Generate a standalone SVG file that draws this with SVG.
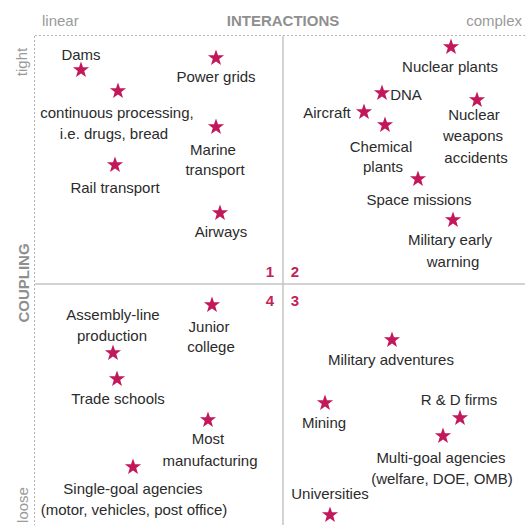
<svg xmlns="http://www.w3.org/2000/svg" width="525" height="525" viewBox="0 0 525 525">
  <style>
    .lbl { font-family: "Liberation Sans", Arial, sans-serif; font-size: 15px; fill: #2b2b2b; text-anchor: middle; }
    .axis { font-family: "Liberation Sans", Arial, sans-serif; font-size: 15px; fill: #9a9a9a; }
    .axisb { font-family: "Liberation Sans", Arial, sans-serif; font-size: 15px; font-weight: bold; fill: #8f8f8f; }
    .num { font-family: "Liberation Sans", Arial, sans-serif; font-size: 15px; font-weight: bold; fill: #c2245a; text-anchor: middle; }
    .dot { stroke: #b5b5b5; stroke-width: 1; stroke-dasharray: 2 2; fill: none; }
    .div { stroke: #c4c4c4; stroke-width: 1.5; fill: none; }
    .star { fill: #c2185b; }
  </style>
  <defs>
    <path id="star" d="M0,-8.5 L1.99,-2.75 L8.08,-2.63 L3.23,1.05 L5,6.88 L0,3.4 L-5,6.88 L-3.23,1.05 L-8.08,-2.63 L-1.99,-2.75 Z"/>
  </defs>
  <rect width="525" height="525" fill="#ffffff"/>

  <!-- frame and quadrant dividers -->
  <g id="grid">
    <line class="dot" x1="35" y1="35.5" x2="525" y2="35.5"/>
    <line class="dot" x1="34.5" y1="36" x2="34.5" y2="525"/>
    <line class="div" x1="283" y1="36" x2="283" y2="525"/>
    <line class="div" x1="35" y1="284" x2="525" y2="284"/>
  </g>

  <!-- axis titles -->
  <g id="axes">
    <text class="axis" x="42" y="26">linear</text>
    <text class="axisb" x="283" y="26" text-anchor="middle">INTERACTIONS</text>
    <text class="axis" x="522" y="26" text-anchor="end">complex</text>
    <text class="axis" transform="translate(27,62) rotate(-90)" text-anchor="middle">tight</text>
    <text class="axisb" transform="translate(29,283) rotate(-90)" text-anchor="middle">COUPLING</text>
    <text class="axis" transform="translate(28,505) rotate(-90)" text-anchor="middle">loose</text>
  </g>

  <!-- quadrant numbers -->
  <g id="quadrants">
    <text class="num" x="270" y="277">1</text>
    <text class="num" x="295" y="277">2</text>
    <text class="num" x="295" y="306">3</text>
    <text class="num" x="270" y="306">4</text>
  </g>

  <!-- quadrant 1: linear / tight -->
  <g id="dams"><use href="#star" class="star" x="81" y="70"/><text class="lbl" x="81" y="60">Dams</text></g>
  <g id="power-grids"><use href="#star" class="star" x="216" y="58"/><text class="lbl" x="216" y="82">Power grids</text></g>
  <g id="continuous-processing"><use href="#star" class="star" x="118" y="91"/><text class="lbl" x="117" y="118">continuous processing,</text><text class="lbl" x="114" y="139">i.e. drugs, bread</text></g>
  <g id="marine-transport"><use href="#star" class="star" x="216" y="127"/><text class="lbl" x="213" y="155">Marine</text><text class="lbl" x="215" y="175">transport</text></g>
  <g id="rail-transport"><use href="#star" class="star" x="115" y="165"/><text class="lbl" x="115" y="193">Rail transport</text></g>
  <g id="airways"><use href="#star" class="star" x="220" y="213"/><text class="lbl" x="221" y="237">Airways</text></g>

  <!-- quadrant 2: complex / tight -->
  <g id="nuclear-plants"><use href="#star" class="star" x="451" y="47"/><text class="lbl" x="450" y="72">Nuclear plants</text></g>
  <g id="dna"><use href="#star" class="star" x="382" y="93"/><text class="lbl" x="406" y="100">DNA</text></g>
  <g id="nuclear-weapons"><use href="#star" class="star" x="477" y="100"/><text class="lbl" x="474" y="120">Nuclear</text><text class="lbl" x="473" y="141">weapons</text><text class="lbl" x="476" y="163">accidents</text></g>
  <g id="aircraft"><use href="#star" class="star" x="364" y="112"/><text class="lbl" x="327" y="118">Aircraft</text></g>
  <g id="chemical-plants"><use href="#star" class="star" x="385" y="125"/><text class="lbl" x="381" y="152">Chemical</text><text class="lbl" x="383" y="172">plants</text></g>
  <g id="space-missions"><use href="#star" class="star" x="418" y="179"/><text class="lbl" x="419" y="205">Space missions</text></g>
  <g id="military-early-warning"><use href="#star" class="star" x="453" y="220"/><text class="lbl" x="450" y="245">Military early</text><text class="lbl" x="453" y="267">warning</text></g>

  <!-- quadrant 4: linear / loose -->
  <g id="junior-college"><use href="#star" class="star" x="212" y="305"/><text class="lbl" x="209" y="332">Junior</text><text class="lbl" x="211" y="352">college</text></g>
  <g id="assembly-line"><use href="#star" class="star" x="113" y="353"/><text class="lbl" x="113" y="320">Assembly-line</text><text class="lbl" x="112" y="341">production</text></g>
  <g id="trade-schools"><use href="#star" class="star" x="117" y="379"/><text class="lbl" x="118" y="404">Trade schools</text></g>
  <g id="most-manufacturing"><use href="#star" class="star" x="208" y="420"/><text class="lbl" x="208" y="444">Most</text><text class="lbl" x="210" y="466">manufacturing</text></g>
  <g id="single-goal-agencies"><use href="#star" class="star" x="133" y="467"/><text class="lbl" x="133" y="494">Single-goal agencies</text><text class="lbl" x="134" y="515">(motor, vehicles, post office)</text></g>

  <!-- quadrant 3: complex / loose -->
  <g id="military-adventures"><use href="#star" class="star" x="392" y="340"/><text class="lbl" x="391" y="365">Military adventures</text></g>
  <g id="mining"><use href="#star" class="star" x="325" y="403"/><text class="lbl" x="324" y="428">Mining</text></g>
  <g id="rd-firms"><use href="#star" class="star" x="460" y="418"/><text class="lbl" x="459" y="405">R &amp; D firms</text></g>
  <g id="multi-goal-agencies"><use href="#star" class="star" x="443" y="436"/><text class="lbl" x="441" y="463">Multi-goal agencies</text><text class="lbl" x="442" y="484">(welfare, DOE, OMB)</text></g>
  <g id="universities"><use href="#star" class="star" x="330" y="515"/><text class="lbl" x="330" y="499">Universities</text></g>
</svg>
